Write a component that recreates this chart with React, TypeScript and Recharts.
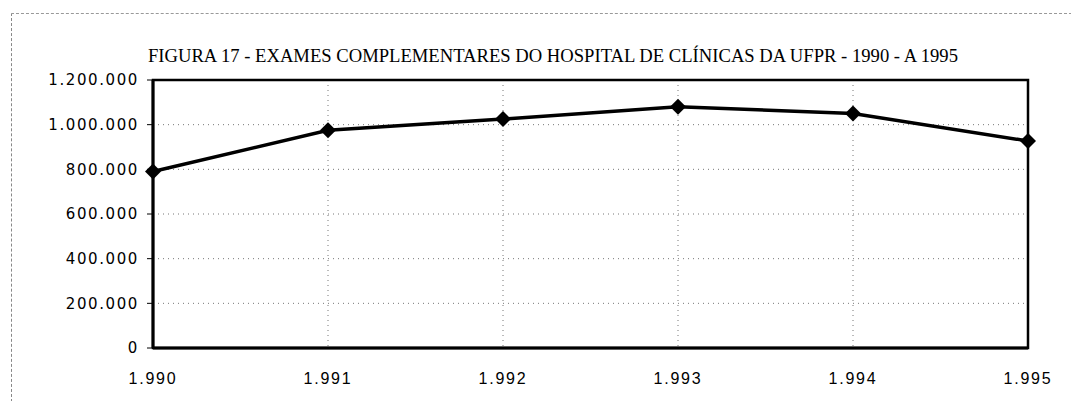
import { LineChart, Line, XAxis, YAxis, CartesianGrid, ReferenceArea } from 'recharts';

const years = ['1.990', '1.991', '1.992', '1.993', '1.994', '1.995'];
const exames = [790000, 975000, 1025000, 1080000, 1050000, 927000];
const yTicks = [0, 200000, 400000, 600000, 800000, 1000000, 1200000];
const title = 'FIGURA 17 - EXAMES COMPLEMENTARES DO HOSPITAL DE CLÍNICAS DA UFPR - 1990 - A 1995';

const data = years.map((year, i) => ({ year, exames: exames[i] }));

const fmt = (v: number) => v.toLocaleString('de-DE');

const Diamond = (props: any) => {
  const { cx, cy } = props;
  if (cx == null || cy == null) return null;
  const r = 8;
  return <path d={`M${cx},${cy - r} L${cx + r},${cy} L${cx},${cy + r} L${cx - r},${cy} Z`} fill="#000" />;
};

export default function App() {
  return (
    <div style={{ position: 'absolute', left: 0, top: 0, width: 1071, height: 401, background: '#fff' }}>
      {/* faint outer frame from the scan */}
      <div
        style={{
          position: 'absolute',
          left: 11,
          top: 13,
          width: 1060,
          height: 388,
          borderTop: '1px dashed #999',
          borderLeft: '1px dashed #888',
        }}
      />
      <svg width={1071} height={401} style={{ position: 'absolute', left: 0, top: 0 }}>
        <text
          x={148}
          y={62}
          textLength={810}
          lengthAdjust="spacingAndGlyphs"
          fontFamily="'Liberation Serif', serif"
          fontSize={18}
          fill="#000"
        >
          {title}
        </text>
      </svg>
      <div style={{ position: 'absolute', left: 0, top: 0 }}>
        <LineChart width={1071} height={401} data={data} margin={{ top: 80, right: 43, bottom: 13, left: 8 }}>
          <CartesianGrid stroke="#777" strokeDasharray="1 4" />
          <XAxis
            dataKey="year"
            height={40}
            axisLine={{ stroke: '#000', strokeWidth: 3 }}
            tickLine={false}
            tick={{ fontFamily: "'Liberation Sans', Arial, sans-serif", fontSize: 16, fill: '#000', letterSpacing: 1.8 }}
            tickMargin={19}
          />
          <YAxis
            width={145}
            domain={[0, 1200000]}
            ticks={yTicks}
            tickFormatter={fmt}
            axisLine={{ stroke: '#000', strokeWidth: 3 }}
            tickLine={{ stroke: '#000' }}
            tickSize={6}
            tickMargin={8}
            tick={{ fontFamily: "'DejaVu Sans', sans-serif", fontSize: 15, fill: '#000', letterSpacing: 1.6 }}
          />
          <ReferenceArea
            x1="1.990"
            x2="1.995"
            y1={0}
            y2={1200000}
            stroke="#000"
            strokeWidth={2.5}
            fill="none"
            fillOpacity={0}
          />
          <Line
            dataKey="exames"
            stroke="#000"
            strokeWidth={3.5}
            dot={<Diamond />}
            activeDot={false}
            isAnimationActive={false}
          />
        </LineChart>
      </div>
    </div>
  );
}
